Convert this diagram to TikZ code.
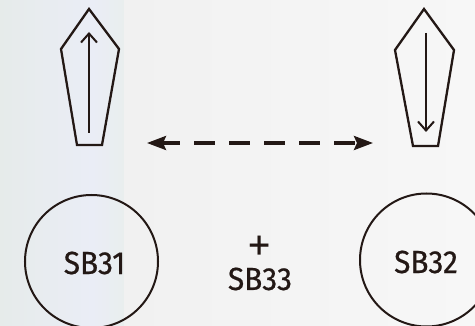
\documentclass[tikz,border=0pt]{standalone}
\usepackage{fontspec}
\setmainfont[FakeStretch=0.93,FakeBold=0.6]{Fira Sans}
\newfontfamily\signfont{PT Sans}
\usetikzlibrary{arrows.meta}
\definecolor{ink}{HTML}{231815}
\tikzset{
  bg/.style={draw=none},
  knob/.style={draw=ink, line width=2.3pt, line join=miter},
  button/.style={circle, draw=ink, line width=2pt, minimum size=133pt, inner sep=0pt},
  label/.style={text=ink, font=\fontsize{32}{32}\selectfont},
  pair/.style={label, align=center, inner sep=0pt, anchor=base},
  turn/.style={draw=ink, line width=2pt, -{Straight Barb[length=9pt,width=16pt,line width=2pt]}},
  swap/.style={draw=ink, line width=3.2pt, dash pattern=on 21pt off 14pt, dash phase=3pt,
    {Stealth[length=19pt,width=14pt,inset=3pt]}-{Stealth[length=19pt,width=14pt,inset=3pt]}}
}
\newcommand{\plussign}{{\signfont\fontsize{44}{44}\selectfont+}}
\begin{document}
\begin{tikzpicture}[x=1pt,y=-1pt]
      \useasboundingbox (0,0) rectangle (475,326);
      % background
      \shade[bg, left color={rgb,255:red,230;green,235;blue,234}, right color={rgb,255:red,234;green,237;blue,246}] (0,0) rectangle (92,326);
      \shade[bg, left color={rgb,255:red,234;green,237;blue,246}, right color={rgb,255:red,233;green,238;blue,238}] (92,0) rectangle (124,326);
      \shade[bg, left color={rgb,255:red,241;green,241;blue,241}, right color={rgb,255:red,247;green,247;blue,247}] (124,0) rectangle (475,326);
      % selector knobs
      \draw[knob] (89,9) -- (119,49) -- (102,145) -- (77,145) -- (61,49) -- cycle;
      \draw[knob] (424,9) -- (454,50) -- (438,146) -- (413,146) -- (395,50) -- cycle;
      \coordinate (l1) at (89,133);
      \coordinate (l2) at (89,32);
      \coordinate (r1) at (426,33);
      \coordinate (r2) at (426,132);
      \coordinate (sa) at (147,143);
      \coordinate (sb) at (373,143);
      \draw
        (91.5,261.5) node[button] (31){}
        (426.5,260) node[button] (32){}
        (94.5,263) node[label] (sb31){SB31}
        (426,262) node[label] (sb32){SB32}
        (260,290) node[pair] (sb33){\plussign\\[-3pt]SB33};
      \begin{scope}[-]
        \draw[turn] (l1) to (l2);
        \draw[turn] (r1) to (r2);
        \draw[swap] (sa) to (sb);
      \end{scope}
    \end{tikzpicture}
\end{document}
